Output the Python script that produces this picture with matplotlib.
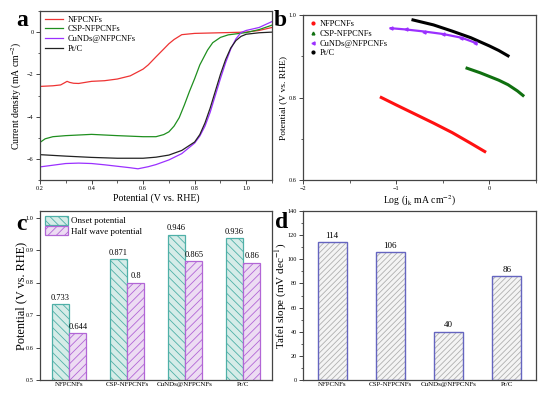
import numpy as np
import matplotlib
matplotlib.use('Agg')
import matplotlib.pyplot as plt
from matplotlib.ticker import MultipleLocator

plt.rcParams['font.family'] = ['Liberation Serif', 'DejaVu Serif']
plt.rcParams['mathtext.fontset'] = 'stix'
plt.rcParams['hatch.linewidth'] = 0.6

# ---- panel a: LSV curves ----
v_red = [0.2, 0.25, 0.28, 0.295, 0.305, 0.315, 0.33, 0.35, 0.4, 0.45, 0.5, 0.55, 0.6, 0.62,
         0.65, 0.68, 0.7, 0.72, 0.75, 0.8, 0.9, 1.0, 1.05, 1.1]
j_red = [-2.57, -2.54, -2.5, -2.4, -2.33, -2.38, -2.42, -2.43, -2.33, -2.3, -2.22, -2.07, -1.75,
         -1.55, -1.17, -0.8, -0.55, -0.35, -0.12, -0.06, -0.03, 0.0, 0.08, 0.22]
v_green = [0.2, 0.22, 0.25, 0.3, 0.4, 0.5, 0.6, 0.65, 0.68, 0.7, 0.72, 0.74, 0.76, 0.78,
           0.8, 0.82, 0.85, 0.87, 0.9, 0.93, 1.0, 1.05, 1.1]
j_green = [-5.22, -5.05, -4.95, -4.9, -4.84, -4.9, -4.95, -4.95, -4.85, -4.72, -4.45, -4.05,
           -3.45, -2.8, -2.2, -1.55, -0.85, -0.5, -0.25, -0.13, -0.02, 0.12, 0.33]
v_purple = [0.2, 0.25, 0.3, 0.35, 0.4, 0.45, 0.5, 0.55, 0.58, 0.62, 0.65, 0.7, 0.75, 0.8, 0.82,
            0.84, 0.86, 0.88, 0.9, 0.92, 0.94, 0.96, 0.98, 1.0, 1.05, 1.1]
j_purple = [-6.38, -6.3, -6.22, -6.2, -6.22, -6.28, -6.35, -6.42, -6.47, -6.37, -6.27, -6.05,
            -5.75, -5.25, -4.92, -4.45, -3.8, -3.0, -2.2, -1.45, -0.8, -0.32, -0.02, 0.08, 0.22, 0.5]
v_black = [0.2, 0.3, 0.4, 0.5, 0.6, 0.65, 0.7, 0.75, 0.8, 0.82, 0.84, 0.86, 0.88, 0.9, 0.92,
           0.94, 0.96, 0.98, 1.0, 1.05, 1.1]
j_black = [-5.8, -5.87, -5.93, -5.97, -5.97, -5.92, -5.82, -5.6, -5.2, -4.85, -4.3, -3.6, -2.8,
           -2.0, -1.3, -0.75, -0.4, -0.2, -0.1, -0.03, 0.0]

# ---- panel b: Tafel plots ----
lg_red = [-1.16, -1.0, -0.8, -0.6, -0.4, -0.2, -0.05]
e_red = [0.800, 0.782, 0.760, 0.738, 0.715, 0.689, 0.669]
lg_green = [-0.24, -0.1, 0.0, 0.1, 0.2, 0.3, 0.36]
e_green = [0.871, 0.860, 0.851, 0.842, 0.831, 0.816, 0.805]
lg_purple = [-1.06, -0.9, -0.7, -0.5, -0.3, -0.155]
e_purple = [0.968, 0.965, 0.960, 0.954, 0.945, 0.933]
lg_black = [-0.82, -0.6, -0.4, -0.2, 0.0, 0.1, 0.2]
e_black = [0.988, 0.976, 0.961, 0.945, 0.925, 0.914, 0.901]

# ---- panels c, d: bar charts ----
samples = ['NFPCNFs', 'CSP-NFPCNFs', 'CuNDs@NFPCNFs', 'Pt/C']
onset = [0.733, 0.871, 0.946, 0.936]
halfwave = [0.644, 0.8, 0.865, 0.86]
tafel = [114, 106, 40, 86]

spine_col = '#444444'
W, H = 553, 396
fig = plt.figure(figsize=(W / 100, H / 100), dpi=100)


def add_ax(l, r, t, b):
    return fig.add_axes([l / W, 1 - b / H, (r - l) / W, (b - t) / H])


def style(ax):
    for s in ax.spines.values():
        s.set_color(spine_col)
        s.set_linewidth(0.9)
    ax.tick_params(direction='out', labelsize=4.5, length=3, width=0.7, color=spine_col, pad=1.5)
    ax.tick_params(which='minor', direction='out', length=1.8, width=0.6, color=spine_col)


def panel_label(s, px, py):
    fig.text(px / W, 1 - py / H, s, fontsize=17, fontweight='bold', ha='center', va='center')


# a
ax = add_ax(40, 272, 11, 180)
ax.plot(v_red, j_red, color='#ee3333', lw=0.9, label='NFPCNFs')
ax.plot(v_green, j_green, color='#1f8f1f', lw=0.9, label='CSP-NFPCNFs')
ax.plot(v_purple, j_purple, color='#9b30ff', lw=0.9, label='CuNDs@NFPCNFs')
ax.plot(v_black, j_black, color='#222222', lw=0.9, label='Pt/C')
ax.set_xlim(0.2, 1.1)
ax.set_ylim(-7, 1)
ax.set_xticks([0.2, 0.4, 0.6, 0.8, 1.0])
ax.set_yticks([0, -2, -4, -6])
ax.xaxis.set_minor_locator(MultipleLocator(0.1))
ax.yaxis.set_minor_locator(MultipleLocator(1))
style(ax)
ax.set_xlabel('Potential (V vs. RHE)', fontsize=7, labelpad=1.5)
ax.set_ylabel('Current density (mA cm$^{-2}$)', fontsize=7)
ax.yaxis.set_label_coords(-0.069, 0.5)
ax.legend(loc='upper left', frameon=False, fontsize=6, handlelength=2.2,
          borderaxespad=0.15, labelspacing=0.2, handletextpad=0.6)
panel_label('a', 22, 21)

# b
ax = add_ax(303, 536, 15, 180)
ax.plot(lg_red, e_red, '-', color='#ff1111', lw=2.2)
ax.plot(lg_green, e_green, '-', color='#107010', lw=2.2)
ax.plot(lg_purple, e_purple, '-', color='#9b30ff', lw=1.6)
ax.plot(lg_black, e_black, '-', color='#000000', lw=2.2)
ax.plot([], [], 'o', color='#ff1111', ms=2, label='NFPCNFs')
ax.plot([], [], '^', color='#107010', ms=2, label='CSP-NFPCNFs')
ax.plot(lg_purple, e_purple, '<', color='#9b30ff', ms=2.2, ls='none', label='CuNDs@NFPCNFs')
ax.plot([], [], 'o', color='#000000', ms=2, label='Pt/C')
ax.set_xlim(-2, 0.5)
ax.set_ylim(0.6, 1.0)
ax.set_xticks([-2, -1, 0])
ax.set_yticks([0.6, 0.8, 1.0])
ax.xaxis.set_minor_locator(MultipleLocator(0.5))
ax.yaxis.set_minor_locator(MultipleLocator(0.1))
style(ax)
ax.set_xlabel('Log (j$_{\\rm k}$ mA cm$^{-2}$)', fontsize=7, labelpad=1.5)
ax.set_ylabel('Potential (V vs. RHE)', fontsize=6.8)
ax.yaxis.set_label_coords(-0.069, 0.5)
ax.legend(loc='upper left', frameon=False, fontsize=6, handlelength=1.0,
          borderaxespad=0.25, labelspacing=0.2, handletextpad=0.4)
panel_label('b', 280, 20)

# c
ax = add_ax(40, 272, 211, 380)
x = np.arange(len(samples))
bw = 0.3
ax.bar(x - bw / 2, onset, bw, color='#d6ece8', edgecolor='#4fb0a8', hatch='\\\\\\\\',
       lw=0.9, label='Onset potential')
ax.bar(x + bw / 2, halfwave, bw, color='#eddcf3', edgecolor='#b266d6', hatch='////',
       lw=0.9, label='Half wave potential')
for xi, v in zip(x, onset):
    ax.text(xi - bw / 2, v + 0.008, str(v), ha='center', va='bottom', fontsize=6)
for xi, v in zip(x, halfwave):
    ax.text(xi + bw / 2, v + 0.008, str(v), ha='center', va='bottom', fontsize=6)
ax.set_xlim(-0.5, 3.5)
ax.set_ylim(0.5, 1.02)
ax.set_xticks(x)
ax.set_xticklabels(samples)
ax.set_yticks([0.5, 0.6, 0.7, 0.8, 0.9, 1.0])
style(ax)
ax.tick_params(axis='x', length=0, labelsize=5)
ax.set_ylabel('Potential (V vs. RHE)', fontsize=8.8)
ax.yaxis.set_label_coords(-0.056, 0.5)
ax.legend(loc='upper left', frameon=False, fontsize=6.5, handlelength=2.6, handleheight=1.1,
          borderaxespad=0.15, labelspacing=0.1, handletextpad=0.3)
panel_label('c', 21, 224)

# d
ax = add_ax(303, 536, 211, 380)
# gray hatching inside, blue outline on top
ax.bar(x, tafel, 0.5, color='#f4f4f4', edgecolor='#b0b0b0', hatch='//////', lw=0)
ax.bar(x, tafel, 0.5, fill=False, edgecolor='#6565c0', lw=1.0)
for xi, v in zip(x, tafel):
    ax.text(xi, v + 2, str(v), ha='center', va='bottom', fontsize=6.5)
ax.set_xlim(-0.5, 3.5)
ax.set_ylim(0, 140)
ax.set_xticks(x)
ax.set_xticklabels(samples)
ax.set_yticks(range(0, 141, 20))
ax.yaxis.set_minor_locator(MultipleLocator(10))
style(ax)
ax.tick_params(axis='x', length=0, labelsize=5)
ax.set_ylabel('Tafel slope (mV dec$^{-1}$)', fontsize=8)
ax.yaxis.set_label_coords(-0.062, 0.5)
panel_label('d', 282, 223)

fig.savefig('out.png', dpi=100, facecolor='white')
